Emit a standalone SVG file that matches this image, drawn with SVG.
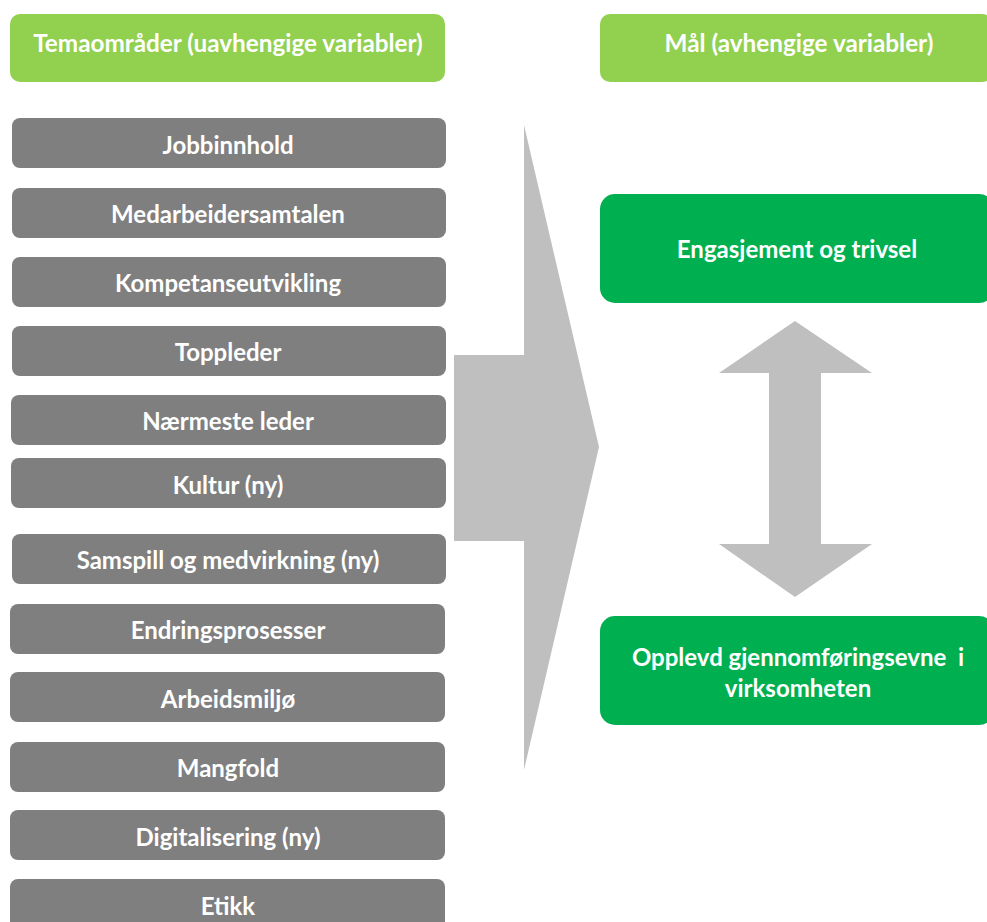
<svg xmlns="http://www.w3.org/2000/svg" width="987" height="922" viewBox="0 0 987 922">
  <style>
    .hdr { fill: #92d050; }
    .topic { fill: #7f7f7f; }
    .goal { fill: #00b050; }
    .shape { fill: #bfbfbf; }
    text { font-family: "Lato", "Liberation Sans", sans-serif; font-weight: bold; fill: #ffffff; text-anchor: middle; dominant-baseline: central; }
    .t { font-size: 24px; }
    .h { font-size: 24.3px; }
    .g { font-size: 24px; }
  </style>

  <!-- Column headers -->
  <g id="header-themes">
    <rect class="hdr" x="10" y="14" width="435" height="68" rx="10"/>
    <text class="h" x="228" y="42">Temaområder (uavhengige variabler)</text>
  </g>
  <g id="header-goals">
    <rect class="hdr" x="600" y="14" width="392" height="68" rx="10"/>
    <text class="h" x="799" y="42">Mål (avhengige variabler)</text>
  </g>

  <!-- Topic areas -->
  <g id="topic-jobbinnhold">
    <rect class="topic" x="12" y="118" width="434" height="50" rx="8"/>
    <text class="t" x="228" y="144">Jobbinnhold</text>
  </g>
  <g id="topic-medarbeidersamtalen">
    <rect class="topic" x="12" y="188" width="434" height="50" rx="8"/>
    <text class="t" x="228" y="213">Medarbeidersamtalen</text>
  </g>
  <g id="topic-kompetanseutvikling">
    <rect class="topic" x="12" y="257" width="434" height="50" rx="8"/>
    <text class="t" x="228" y="282">Kompetanseutvikling</text>
  </g>
  <g id="topic-toppleder">
    <rect class="topic" x="12" y="326" width="434" height="50" rx="8"/>
    <text class="t" x="228" y="351">Toppleder</text>
  </g>
  <g id="topic-naermeste-leder">
    <rect class="topic" x="11" y="395" width="435" height="50" rx="8"/>
    <text class="t" x="228" y="420">Nærmeste leder</text>
  </g>
  <g id="topic-kultur">
    <rect class="topic" x="11" y="458" width="435" height="50" rx="8"/>
    <text class="t" x="228" y="484">Kultur (ny)</text>
  </g>
  <g id="topic-samspill">
    <rect class="topic" x="12" y="534" width="434" height="50" rx="8"/>
    <text class="t" x="228" y="559">Samspill og medvirkning (ny)</text>
  </g>
  <g id="topic-endringsprosesser">
    <rect class="topic" x="10" y="604" width="435" height="50" rx="8"/>
    <text class="t" x="228" y="629">Endringsprosesser</text>
  </g>
  <g id="topic-arbeidsmiljo">
    <rect class="topic" x="10" y="672" width="435" height="50" rx="8"/>
    <text class="t" x="228" y="698">Arbeidsmiljø</text>
  </g>
  <g id="topic-mangfold">
    <rect class="topic" x="10" y="742" width="435" height="50" rx="8"/>
    <text class="t" x="228" y="767">Mangfold</text>
  </g>
  <g id="topic-digitalisering">
    <rect class="topic" x="10" y="810" width="435" height="50" rx="8"/>
    <text class="t" x="228" y="836">Digitalisering (ny)</text>
  </g>
  <g id="topic-etikk">
    <rect class="topic" x="10" y="879" width="435" height="60" rx="8"/>
    <text class="t" x="228" y="905">Etikk</text>
  </g>

  <!-- Goals -->
  <g id="goal-engasjement">
    <rect class="goal" x="600" y="194" width="394" height="109" rx="15"/>
    <text class="g" x="797" y="248">Engasjement og trivsel</text>
  </g>
  <g id="goal-gjennomforingsevne">
    <rect class="goal" x="600" y="616" width="394" height="109" rx="15"/>
    <text class="g" x="798" y="656" xml:space="preserve">Opplevd gjennomføringsevne  i</text>
    <text class="g" x="798" y="687">virksomheten</text>
  </g>

  <!-- Connectors -->
  <g id="connectors">
    <polygon class="shape" points="454,355 524,355 524,125 599,447 524,770 524,541 454,541"/>
    <polygon class="shape" points="795,321 872,373 821,373 821,544 872,544 795,597 719,544 769,544 769,373 719,373"/>
  </g>
</svg>
